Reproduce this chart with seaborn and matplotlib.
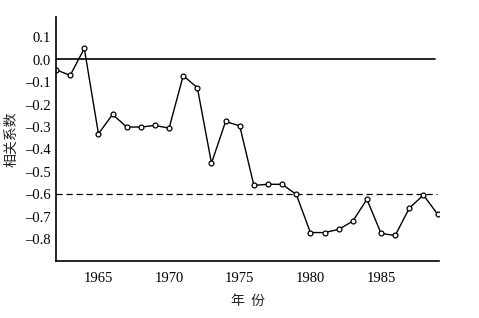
import matplotlib
matplotlib.use("Agg")
import matplotlib.pyplot as plt
import seaborn as sns
import pandas as pd

years = list(range(1962, 1990))
corr = [-0.045, -0.07, 0.05, -0.33, -0.244, -0.30, -0.30, -0.293, -0.305,
        -0.071, -0.125, -0.461, -0.275, -0.295, -0.56, -0.555, -0.555, -0.60,
        -0.77, -0.77, -0.756, -0.719, -0.622, -0.774, -0.783, -0.661, -0.603, -0.688]
yticks = [0.1, 0.0, -0.1, -0.2, -0.3, -0.4, -0.5, -0.6, -0.7, -0.8]
xticks = [1965, 1970, 1975, 1980, 1985]
ref_zero = 0.005
ref_dash = -0.60

df = pd.DataFrame({"year": years, "corr": corr})

sns.set_style("white")
plt.rcParams['font.family'] = ['Liberation Serif', 'Noto Sans CJK SC']
plt.rcParams['axes.unicode_minus'] = True

fig = plt.figure(figsize=(4.79, 3.18), dpi=100)
ax = fig.add_axes([0.117, 0.179, 0.7995, 0.7675])

ax.axhline(ref_zero, xmin=0, xmax=0.99, color='black', lw=1.2)
ax.axhline(ref_dash, xmin=0, xmax=0.995, color='black', lw=0.9, ls=(0, (5, 3)))
sns.lineplot(data=df, x="year", y="corr", ax=ax, color='black', lw=1.0,
             marker='o', markersize=3.5, markerfacecolor='white',
             markeredgecolor='black', markeredgewidth=0.9)

ax.set_xlim(1962, 1989.1)
ax.set_ylim(-0.897, 0.19)
ax.set_xticks(xticks)
ax.set_xticklabels([str(x) for x in xticks])
ax.set_yticks(yticks)
ax.set_yticklabels([f"{v:.1f}".replace('-', '\u2013') if v != 0 else "0.0" for v in yticks])
ax.tick_params(direction='in', length=4, width=1, labelsize=10.5, colors='black')
ax.tick_params(axis='x', pad=8)
for s in ['top', 'right']:
    ax.spines[s].set_visible(False)
for s in ['left', 'bottom']:
    ax.spines[s].set_color('black')
    ax.spines[s].set_linewidth(1.2)

ax.set_xlabel("年  份", family=['Noto Sans CJK SC'], fontsize=10, labelpad=6)
ax.set_ylabel("相关系数", family=['Noto Sans CJK SC'], fontsize=10, labelpad=5)

fig.savefig("out.png", dpi=100)
